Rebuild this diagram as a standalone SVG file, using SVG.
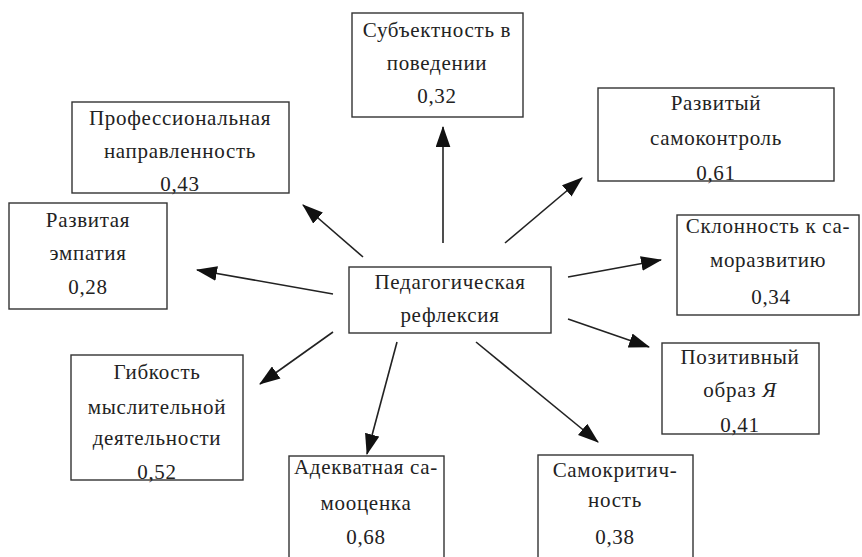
<svg xmlns="http://www.w3.org/2000/svg" width="862" height="557" viewBox="0 0 862 557">
<defs>
<style>
.box{fill:#fff;stroke:#333;stroke-width:1.4}
.t text{font-family:"Liberation Serif","Times New Roman",serif;font-size:21px;letter-spacing:0.7px;fill:#222;text-anchor:middle}
.conn line{stroke:#222;stroke-width:1.6;marker-end:url(#ahb)}
</style>
<marker id="ahb" viewBox="0 0 20 14" refX="19" refY="7" markerWidth="21" markerHeight="15" markerUnits="userSpaceOnUse" orient="auto">
<path d="M0,0 L20,7 L0,14 Z" fill="#111"/>
</marker>
</defs>
<rect width="862" height="557" fill="#fff"/>
<g class="conn" id="connectors">
<line x1="443" y1="243" x2="443" y2="127"/>
<line x1="505" y1="243" x2="582" y2="178"/>
<line x1="568" y1="277" x2="661" y2="260"/>
<line x1="568" y1="319" x2="649" y2="347"/>
<line x1="476" y1="342" x2="598" y2="442"/>
<line x1="397" y1="342" x2="367" y2="454"/>
<line x1="333" y1="332" x2="260" y2="384"/>
<line x1="333" y1="294" x2="197" y2="270"/>
<line x1="363" y1="257" x2="303" y2="205"/>
</g>
<g id="center" class="t">
<rect class="box" x="349" y="267" width="202" height="66"/>
<text x="450" y="289">Педагогическая</text>
<text x="450" y="322">рефлексия</text>
</g>
<g id="subjectness" class="t">
<rect class="box" x="352" y="13" width="171" height="104"/>
<text x="437" y="37">Субъектность в</text>
<text x="437" y="70">поведении</text>
<text x="437" y="103">0,32</text>
</g>
<g id="professional" class="t">
<rect class="box" x="72" y="102" width="217" height="91"/>
<text x="180" y="125">Профессиональная</text>
<text x="180" y="158">направленность</text>
<text x="180" y="191">0,43</text>
</g>
<g id="empathy" class="t">
<rect class="box" x="9" y="203" width="158" height="106"/>
<text x="88" y="227">Развитая</text>
<text x="88" y="260">эмпатия</text>
<text x="88" y="294">0,28</text>
</g>
<g id="selfcontrol" class="t">
<rect class="box" x="598" y="88" width="236" height="93"/>
<text x="716" y="110">Развитый</text>
<text x="716" y="145">самоконтроль</text>
<text x="716" y="180">0,61</text>
</g>
<g id="selfdevelopment" class="t">
<rect class="box" x="677" y="215" width="182" height="100"/>
<text x="768" y="233">Склонность к са-</text>
<text x="768" y="267">моразвитию</text>
<text x="771" y="304">0,34</text>
</g>
<g id="positive" class="t">
<rect class="box" x="662" y="343" width="157" height="91"/>
<text x="740" y="364">Позитивный</text>
<text x="740" y="397">образ <tspan font-style="italic">Я</tspan></text>
<text x="740" y="432">0,41</text>
</g>
<g id="flexibility" class="t">
<rect class="box" x="71" y="355" width="172" height="125"/>
<text x="157" y="379">Гибкость</text>
<text x="157" y="414">мыслительной</text>
<text x="157" y="445">деятельности</text>
<text x="157" y="479">0,52</text>
</g>
<g id="selfesteem" class="t">
<rect class="box" x="289" y="456" width="155" height="110"/>
<text x="366" y="474">Адекватная са-</text>
<text x="366" y="510">мооценка</text>
<text x="366" y="544">0,68</text>
</g>
<g id="selfcriticism" class="t">
<rect class="box" x="538" y="455" width="155" height="110"/>
<text x="615" y="477">Самокритич-</text>
<text x="615" y="507">ность</text>
<text x="615" y="544">0,38</text>
</g>
</svg>
